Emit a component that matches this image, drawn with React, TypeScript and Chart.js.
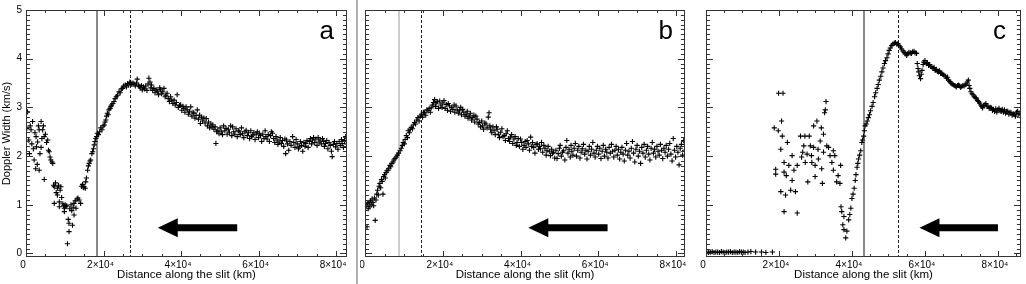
import React, { useEffect, useRef } from "react";
import { Chart, registerables } from "chart.js";

Chart.register(...registerables);

// ---- axes (x in units of 10^3 km) ----
const xTickValues = [0, 20, 40, 60, 80];
const xTickLabels = ["0", "2×10⁴", "4×10⁴", "6×10⁴", "8×10⁴"];
const xMinorStep = 5;
const yTickValues = [0, 1, 2, 3, 4, 5];
const yTickLabels = ["0", "1", "2", "3", "4", "5"];
const yMinorStep = 0.1;
const yMin = -0.072;
const yMax = 5;
const xMaxes = [82.8, 82.3, 86.3];

const xTitle = "Distance along the slit (km)";
const yTitle = "Doppler Width (km/s)";
const panelLetters = ["a", "b", "c"];

// ---- marker lines and arrows (x in 10^3 km, y in km/s) ----
const solidMarkers = [18.4, 8.8, 43.2];
const dashedMarkers = [26.8, 14.5, 52.7];
const arrowTips = [34.0, 42.0, 58.5];
const arrowTails = [54.5, 62.4, 80.0];
const arrowLevel = 0.53;

// ---- series: [distance (10^3 km), Doppler width (km/s)] ----
const panelA: [number, number][] = [
  [0.0,2.05],[0.2,2.57],[0.4,2.91],[0.7,2.33],[0.9,2.05],[1.1,2.62],[1.3,2.54],[1.5,2.25],[1.7,2.71],[1.9,2.15],
  [2.1,1.92],[2.3,2.48],[2.5,1.74],[2.6,2.40],[2.7,2.19],[2.9,1.83],[3.0,2.29],[3.2,2.62],[3.4,2.54],[3.4,1.71],
  [3.6,2.05],[3.9,2.71],[3.9,2.18],[4.1,2.36],[4.3,2.54],[4.5,2.62],[4.7,2.40],[4.7,1.52],[5.0,2.45],[5.3,2.28],
  [5.6,2.33],[5.8,2.12],[6.0,2.09],[6.2,1.98],[6.4,1.92],[6.7,1.88],[6.9,1.85],[7.1,1.40],[7.3,1.37],[7.3,1.03],
  [7.6,1.45],[7.8,1.25],[8.1,1.34],[8.1,1.20],[8.4,1.40],[8.6,1.06],[8.6,0.96],[8.8,1.30],[9.0,1.37],[9.2,1.15],
  [9.5,1.02],[9.7,0.98],[9.9,0.93],[9.9,0.86],[10.1,1.00],[10.3,0.96],[10.5,0.98],[10.7,0.20],[10.9,0.70],[11.1,0.62],
  [11.1,0.45],[11.3,0.92],[11.6,1.00],[11.8,0.88],[12.0,0.58],[12.2,0.95],[12.4,1.03],[12.4,0.79],[12.7,1.08],[12.9,0.93],
  [13.2,1.12],[13.4,1.14],[13.7,1.10],[14.1,1.03],[14.3,1.38],[14.6,1.42],[14.8,1.35],[15.0,1.37],[15.3,1.34],[15.4,1.47],
  [15.6,1.55],[15.9,1.71],[16.1,1.80],[16.3,1.85],[16.5,1.90],[16.7,1.92],[17.0,2.05],[17.2,2.09],[17.4,2.15],[17.6,2.23],
  [17.8,2.30],[18.0,2.36],[18.2,2.40],[18.4,2.47],[18.7,2.44],[19.0,2.50],[19.3,2.58],[19.6,2.54],[19.9,2.62],[20.2,2.64],
  [20.4,2.70],[20.6,2.74],[20.8,2.82],[21.0,2.88],[21.2,2.85],[21.4,2.95],[21.7,2.98],[21.9,3.02],[22.1,3.05],[22.4,3.08],
  [22.7,3.12],[23.0,3.18],[23.3,3.22],[23.6,3.25],[24.0,3.32],[24.3,3.30],[24.6,3.38],[24.9,3.39],[25.2,3.44],[25.6,3.46],
  [25.9,3.42],[26.2,3.49],[26.5,3.46],[26.8,3.52],[27.0,3.51],[27.3,3.47],[27.6,3.50],[27.9,3.48],[28.2,3.44],[28.5,3.50],
  [28.7,3.58],[29.0,3.46],[29.2,3.43],[29.5,3.40],[29.8,3.45],[30.0,3.36],[30.3,3.42],[30.6,3.38],[30.9,3.44],[31.2,3.35],
  [31.5,3.48],[31.7,3.60],[32.0,3.52],[32.2,3.40],[32.4,3.46],[32.7,3.35],[33.0,3.39],[33.3,3.30],[33.6,3.36],[33.9,3.32],
  [34.2,3.26],[34.5,3.40],[34.7,3.36],[35.0,3.28],[35.3,3.32],[35.6,3.39],[35.9,3.22],[36.1,3.25],[36.4,3.29],[36.7,3.18],
  [37.0,3.12],[37.3,3.22],[37.6,3.15],[37.9,3.08],[38.2,3.15],[38.5,3.05],[38.8,3.10],[39.0,3.26],[39.3,3.00],[39.6,3.04],
  [39.9,3.05],[40.2,2.94],[40.5,3.02],[40.7,2.98],[41.0,2.90],[41.3,3.01],[41.6,2.95],[41.9,2.86],[42.2,2.92],[42.5,3.01],
  [42.8,2.82],[43.1,2.90],[43.3,2.88],[43.6,2.78],[43.9,2.84],[44.2,2.95],[44.5,2.76],[44.8,2.84],[45.0,2.67],[45.3,2.80],
  [45.6,2.72],[45.9,2.78],[46.2,2.68],[46.5,2.77],[46.8,2.62],[47.1,2.70],[47.4,2.58],[47.7,2.66],[48.0,2.60],[48.2,2.64],
  [48.5,2.55],[48.8,2.60],[49.0,2.26],[49.2,2.50],[49.5,2.53],[49.8,2.46],[50.1,2.58],[50.4,2.50],[50.7,2.44],[51.0,2.62],
  [51.3,2.52],[51.6,2.57],[51.9,2.45],[52.2,2.55],[52.5,2.48],[52.8,2.62],[53.1,2.42],[53.3,2.60],[53.6,2.50],[53.9,2.45],
  [54.2,2.56],[54.5,2.40],[54.8,2.52],[55.0,2.50],[55.3,2.44],[55.6,2.58],[55.9,2.46],[56.2,2.38],[56.5,2.50],[56.8,2.53],
  [57.1,2.42],[57.4,2.48],[57.7,2.36],[58.0,2.52],[58.2,2.40],[58.5,2.43],[58.8,2.48],[59.1,2.34],[59.4,2.45],[59.7,2.50],
  [60.0,2.38],[60.2,2.47],[60.5,2.42],[60.8,2.30],[61.1,2.45],[61.4,2.36],[61.7,2.52],[61.9,2.40],[62.2,2.35],[62.5,2.44],
  [62.8,2.30],[63.1,2.42],[63.3,2.50],[63.6,2.47],[63.9,2.36],[64.2,2.28],[64.5,2.40],[64.8,2.33],[65.0,2.24],[65.3,2.29],
  [65.6,2.38],[65.9,2.26],[66.2,2.32],[66.5,2.20],[66.8,2.35],[67.0,2.05],[67.2,2.33],[67.5,2.25],[67.8,2.12],[68.1,2.30],
  [68.4,2.22],[68.8,2.40],[69.1,2.28],[69.4,2.18],[69.7,2.34],[70.0,2.25],[70.3,2.15],[70.5,2.19],[70.8,2.30],[71.1,2.22],
  [71.4,2.10],[71.7,2.28],[72.0,2.20],[72.2,2.26],[72.5,2.32],[72.8,2.18],[73.1,2.30],[73.4,2.36],[73.7,2.25],[73.9,2.33],
  [74.2,2.38],[74.5,2.28],[74.8,2.35],[75.1,2.22],[75.4,2.38],[75.6,2.29],[75.9,2.33],[76.2,2.25],[76.5,2.36],[76.8,2.30],
  [77.0,2.20],[77.3,2.26],[77.6,2.32],[77.9,2.15],[78.2,2.28],[78.5,2.22],[78.8,2.10],[79.0,1.99],[79.3,2.24],[79.6,2.30],
  [79.9,2.19],[80.2,2.26],[80.5,2.14],[80.8,2.30],[81.1,2.22],[81.4,2.34],[81.6,2.26],[81.9,2.18],[82.2,2.32],[82.5,2.40],
  [82.7,2.25],
];

const panelB: [number, number][] = [
  [0.3,0.98],[0.5,0.55],[0.6,1.02],[0.8,0.92],[1.0,1.05],[1.2,0.96],[1.4,1.08],[1.6,1.00],[1.8,1.12],[2.0,1.05],
  [2.2,0.98],[2.4,1.14],[2.6,0.68],[2.8,1.10],[3.0,1.22],[3.2,1.30],[3.4,1.20],[3.6,1.38],[3.8,1.44],[4.0,1.35],
  [4.2,1.52],[4.4,1.48],[4.6,1.22],[4.8,1.58],[5.0,1.62],[5.2,1.55],[5.4,1.66],[5.6,1.70],[5.9,1.71],[6.1,1.75],
  [6.4,1.81],[6.6,1.78],[6.9,1.85],[7.2,1.88],[7.4,1.92],[7.7,1.95],[8.0,1.98],[8.3,2.02],[8.6,2.06],[9.0,2.11],
  [9.3,2.16],[9.6,2.22],[9.8,2.28],[10.1,2.25],[10.3,2.34],[10.6,2.42],[10.9,2.38],[11.1,2.52],[11.4,2.48],[11.6,2.55],
  [11.9,2.59],[12.2,2.56],[12.4,2.64],[12.7,2.69],[13.0,2.66],[13.3,2.74],[13.6,2.79],[13.9,2.72],[14.2,2.82],[14.5,2.86],
  [14.8,2.80],[15.0,2.90],[15.3,2.89],[15.6,2.84],[15.9,2.95],[16.2,2.93],[16.5,2.98],[16.8,2.90],[17.0,2.99],[17.3,3.05],
  [17.6,3.10],[17.9,3.16],[18.1,3.02],[18.3,3.09],[18.6,3.12],[18.9,2.98],[19.2,3.13],[19.5,3.05],[19.8,3.00],[20.0,3.09],
  [20.3,3.14],[20.6,2.98],[20.9,3.06],[21.2,2.94],[21.4,3.08],[21.7,3.03],[22.0,2.92],[22.3,3.00],[22.6,2.96],[22.9,3.05],
  [23.1,2.90],[23.4,3.03],[23.7,2.95],[24.0,2.88],[24.3,2.93],[24.6,3.00],[24.8,2.85],[25.1,2.96],[25.4,2.90],[25.7,2.82],
  [26.0,2.86],[26.3,2.92],[26.5,2.78],[26.8,2.82],[27.1,2.88],[27.4,2.74],[27.7,2.79],[28.0,2.84],[28.2,2.70],[28.5,2.82],
  [28.8,2.76],[29.1,2.66],[29.4,2.69],[29.7,2.60],[30.0,2.72],[30.2,2.62],[30.5,2.55],[30.8,2.68],[31.1,2.66],[31.4,2.58],
  [31.7,2.80],[31.9,2.89],[32.1,2.62],[32.3,2.55],[32.6,2.48],[32.9,2.60],[33.2,2.52],[33.5,2.44],[33.8,2.60],[34.0,2.55],
  [34.3,2.45],[34.6,2.38],[34.9,2.49],[35.2,2.56],[35.5,2.40],[35.8,2.42],[36.1,2.32],[36.3,2.46],[36.6,2.52],[36.9,2.36],
  [37.2,2.30],[37.4,2.39],[37.7,2.44],[38.0,2.26],[38.3,2.35],[38.6,2.40],[38.9,2.22],[39.1,2.28],[39.4,2.36],[39.7,2.20],
  [40.0,2.35],[40.3,2.28],[40.6,2.14],[40.9,2.22],[41.2,2.30],[41.4,2.18],[41.7,2.32],[42.0,2.25],[42.3,2.12],[42.6,2.39],
  [42.9,2.20],[43.1,2.28],[43.4,2.18],[43.7,2.06],[44.0,2.24],[44.3,2.25],[44.6,2.14],[44.9,2.20],[45.1,2.15],[45.4,2.28],
  [45.7,2.08],[46.0,2.22],[46.3,2.16],[46.6,2.02],[46.8,2.11],[47.1,2.20],[47.4,2.10],[47.7,2.01],[48.0,2.14],[48.2,2.06],
  [48.5,2.08],[48.8,1.96],[49.1,2.12],[49.4,1.95],[49.7,2.05],[50.0,2.16],[50.2,2.22],[50.5,2.00],[50.8,2.08],[51.1,2.11],
  [51.4,1.92],[51.7,2.18],[51.9,2.32],[52.2,2.06],[52.5,2.14],[52.8,1.98],[53.0,2.22],[53.2,2.10],[53.5,2.02],[53.8,2.16],
  [54.1,2.26],[54.4,2.00],[54.7,2.12],[55.0,2.20],[55.3,1.96],[55.6,2.08],[55.9,2.15],[56.2,2.24],[56.5,2.04],[56.8,2.12],
  [57.1,1.94],[57.4,2.10],[57.7,2.20],[58.0,2.02],[58.3,2.14],[58.6,2.28],[58.9,2.06],[59.2,1.98],[59.5,2.12],[59.8,2.20],
  [60.1,2.04],[60.4,2.16],[60.7,1.95],[61.0,2.10],[61.3,2.22],[61.6,2.00],[61.9,2.14],[62.2,2.08],[62.5,1.96],[62.8,2.18],
  [63.1,2.06],[63.4,2.24],[63.7,2.10],[64.0,1.98],[64.3,2.12],[64.6,2.20],[64.9,2.02],[65.2,2.14],[65.5,1.94],[65.8,2.08],
  [66.1,2.18],[66.4,2.04],[66.7,1.90],[67.0,2.12],[67.3,2.26],[67.6,2.02],[67.9,2.10],[68.2,1.96],[68.5,2.16],[68.8,2.30],
  [69.1,2.06],[69.4,1.88],[69.7,2.14],[70.0,2.22],[70.3,2.00],[70.6,2.10],[70.9,1.85],[71.2,2.18],[71.5,2.06],[71.8,2.24],
  [72.1,1.98],[72.4,2.12],[72.7,2.20],[73.0,2.04],[73.3,1.92],[73.6,2.16],[73.9,2.28],[74.2,2.06],[74.5,2.14],[74.8,1.98],
  [75.1,2.20],[75.4,2.10],[75.7,2.02],[76.0,2.24],[76.3,2.12],[76.6,1.95],[76.9,2.16],[77.2,2.08],[77.5,2.22],[77.8,2.00],
  [78.1,2.14],[78.4,2.26],[78.7,2.04],[79.0,1.90],[79.3,2.36],[79.6,2.12],[79.9,1.98],[80.2,2.20],[80.5,2.08],[80.8,1.82],
  [81.1,2.16],[81.4,2.24],[81.7,2.02],[82.0,2.32],[82.2,2.12],
];

const panelC: [number, number][] = [
  [0.2,0.03],[0.7,0.02],[1.2,0.03],[1.7,0.04],[2.2,0.02],[2.7,0.03],[3.2,0.03],[3.7,0.02],[4.2,0.04],[4.7,0.03],
  [5.2,0.02],[5.7,0.03],[6.2,0.03],[6.7,0.04],[7.2,0.02],[7.7,0.03],[8.2,0.03],[8.7,0.02],[9.2,0.04],[9.7,0.03],
  [10.2,0.03],[10.7,0.02],[11.5,0.03],[12.3,0.04],[13.6,0.03],[15.2,0.03],[16.4,0.02],[18.2,0.03],
  [18.7,2.58],[19.1,1.73],[19.1,1.63],[19.8,2.52],[19.9,3.29],[20.5,2.14],[20.5,1.27],[20.7,2.72],[20.9,2.41],[21.1,3.29],
  [21.4,1.87],[21.4,1.67],[21.4,0.86],[21.8,1.20],[22.0,1.60],[22.3,2.28],[22.7,1.81],[23.2,1.30],[23.6,1.50],[23.6,2.01],
  [24.1,1.71],[24.5,1.27],[25.0,0.83],[25.0,1.81],[25.9,2.41],[26.2,1.98],[26.5,2.08],[26.8,2.21],[27.1,2.41],[27.2,1.87],
  [27.7,2.04],[27.9,1.47],[28.3,2.41],[28.6,2.21],[28.9,2.01],[29.0,1.87],[29.5,2.62],[29.5,2.18],[29.9,1.81],[29.9,1.58],
  [30.4,2.72],[30.7,2.14],[30.8,1.94],[31.3,2.31],[31.6,2.58],[31.7,1.74],[31.9,1.44],[32.2,2.08],[32.2,2.45],[32.5,2.89],
  [32.7,2.95],[32.9,3.12],[33.1,2.21],[33.6,2.18],[34.0,2.01],[34.5,1.87],[34.9,2.11],[34.9,1.71],[35.3,2.01],[35.8,1.47],
  [36.2,1.60],[36.7,1.44],[36.9,1.81],
  [37.0,0.96],[37.2,0.86],[37.5,0.59],[37.8,0.49],[37.8,0.76],[38.3,0.32],[38.6,0.46],[39.1,0.69],[39.4,0.80],[39.7,0.93],
  [40.0,1.13],[40.3,1.22],[40.6,1.34],[40.9,1.50],[41.1,1.62],[41.4,1.77],[41.6,1.85],[41.8,1.94],[42.1,2.02],[42.4,2.11],
  [42.7,2.28],[42.9,2.33],[43.2,2.41],[43.4,2.52],[43.6,2.62],[43.9,2.66],[44.2,2.72],[44.5,2.79],[44.8,2.85],[45.1,2.93],
  [45.5,3.02],[45.8,3.10],[46.2,3.22],[46.5,3.30],[46.9,3.39],[47.2,3.47],[47.5,3.56],[47.9,3.64],[48.2,3.73],[48.5,3.81],
  [48.9,3.90],[49.2,3.96],[49.6,4.02],[49.9,4.10],[50.2,4.17],[50.5,4.22],[50.9,4.27],[51.2,4.30],[51.6,4.32],[51.9,4.33],
  [52.3,4.30],[52.6,4.31],[52.9,4.27],[53.3,4.24],[53.6,4.20],[54.0,4.16],[54.3,4.13],[54.6,4.10],[55.0,4.07],[55.3,4.10],
  [55.6,4.13],[56.0,4.12],[56.3,4.11],[56.6,4.14],[57.0,4.15],[57.3,4.12],[57.7,4.11],[57.9,3.90],[58.1,3.80],[58.3,3.73],
  [58.5,3.65],[58.8,3.59],[59.0,3.68],[59.2,3.76],[59.5,3.88],[59.7,3.93],[60.0,3.96],[60.4,3.90],[60.7,3.92],[61.0,3.86],
  [61.3,3.88],[61.6,3.84],[61.9,3.83],[62.2,3.80],[62.5,3.82],[62.8,3.76],[63.1,3.78],[63.4,3.74],[63.7,3.73],[64.0,3.75],
  [64.3,3.70],[64.6,3.70],[64.9,3.68],[65.2,3.66],[65.6,3.64],[65.9,3.60],[66.2,3.62],[66.5,3.56],[66.8,3.53],[67.1,3.50],
  [67.4,3.49],[67.7,3.47],[68.0,3.45],[68.3,3.44],[68.6,3.42],[68.9,3.45],[69.2,3.46],[69.5,3.44],[69.8,3.41],[70.1,3.43],
  [70.4,3.45],[70.7,3.44],[71.0,3.46],[71.3,3.48],[71.6,3.52],[71.9,3.56],[72.1,3.45],[72.3,3.39],[72.6,3.32],[72.9,3.28],
  [73.2,3.26],[73.5,3.22],[73.8,3.20],[74.1,3.19],[74.4,3.14],[74.7,3.12],[75.0,3.09],[75.3,3.05],[75.6,3.02],[75.8,2.99],
  [76.1,3.04],[76.4,3.05],[76.7,3.08],[77.0,3.03],[77.3,3.02],[77.6,2.98],[77.9,3.00],[78.2,2.99],[78.5,2.94],[78.8,2.96],
  [79.1,2.92],[79.4,2.97],[79.7,2.90],[80.0,2.95],[80.3,2.98],[80.6,2.93],[80.9,2.92],[81.2,2.96],[81.5,2.90],[81.8,2.95],
  [82.1,2.88],[82.4,2.92],[82.7,2.92],[83.0,2.86],[83.3,2.90],[83.6,2.89],[83.9,2.84],[84.2,2.87],[84.5,2.85],[84.8,2.82],
  [85.1,2.90],[85.4,2.92],[85.7,2.86],[86.0,2.88],
];

const panelSeries = [panelA, panelB, panelC];

// ---- styling ----
const FONT = "'Liberation Sans', Arial, Helvetica, sans-serif";
const INK = "#000";
const solidColors = ["#8a8a8a", "#bdbdbd", "#8a8a8a"];
const solidWidths = [2, 1.5, 2];

type PanelGeom = { left: number; width: number; yAxisWidth: number; padRight: number; showY: boolean };
const geoms: PanelGeom[] = [
  { left: 0, width: 352, yAxisWidth: 26, padRight: 4, showY: true },
  { left: 360, width: 330, yAxisWidth: 5, padRight: 3, showY: false },
  { left: 700, width: 326, yAxisWidth: 6, padRight: 1, showY: false },
];
const letterInset = [13, 12, 15];

function decorPlugin(i: number) {
  return {
    id: "decor" + i,
    beforeDatasetsDraw(chart: any) {
      const { ctx, chartArea: ca, scales } = chart;
      const x = scales.x;
      ctx.save();
      const xs = Math.round(x.getPixelForValue(solidMarkers[i]));
      ctx.strokeStyle = solidColors[i];
      ctx.lineWidth = solidWidths[i];
      ctx.beginPath();
      ctx.moveTo(xs, ca.top);
      ctx.lineTo(xs, ca.bottom);
      ctx.stroke();
      const xd = Math.round(x.getPixelForValue(dashedMarkers[i])) + 0.5;
      ctx.strokeStyle = "#222";
      ctx.lineWidth = 1;
      ctx.setLineDash([3, 2]);
      ctx.beginPath();
      ctx.moveTo(xd, ca.top);
      ctx.lineTo(xd, ca.bottom);
      ctx.stroke();
      ctx.restore();
    },
    afterDraw(chart: any) {
      const { ctx, chartArea: ca, scales } = chart;
      const x = scales.x;
      const y = scales.y;
      ctx.save();
      // frame
      ctx.strokeStyle = "#333";
      ctx.lineWidth = 1;
      ctx.strokeRect(Math.round(ca.left) + 0.5, Math.round(ca.top) + 0.5, Math.round(ca.right - ca.left) - 1, Math.round(ca.bottom - ca.top) - 1);
      // x ticks (inward, bottom and top)
      ctx.beginPath();
      const xMax = xMaxes[i];
      for (let v = 0; v <= xMax; v += xMinorStep) {
        const major = xTickValues.includes(v);
        const len = major ? 6 : 3;
        const px = Math.round(x.getPixelForValue(v)) + 0.5;
        ctx.moveTo(px, ca.bottom);
        ctx.lineTo(px, ca.bottom - len);
        ctx.moveTo(px, ca.top);
        ctx.lineTo(px, ca.top + len);
      }
      // y ticks (inward, left and right)
      for (let k = 0; k <= 50; k++) {
        const v = k * yMinorStep;
        const major = k % 10 === 0;
        const len = major ? 7 : 4;
        const py = Math.round(y.getPixelForValue(v)) + 0.5;
        ctx.moveTo(ca.left, py);
        ctx.lineTo(ca.left + len, py);
        ctx.moveTo(ca.right, py);
        ctx.lineTo(ca.right - len, py);
      }
      ctx.stroke();
      // arrow
      const tip = x.getPixelForValue(arrowTips[i]);
      const tail = x.getPixelForValue(arrowTails[i]);
      const yc = y.getPixelForValue(arrowLevel);
      const headLen = 20, headHalf = 9.5, shaftHalf = 3.5;
      ctx.fillStyle = "#000";
      ctx.beginPath();
      ctx.moveTo(tip, yc);
      ctx.lineTo(tip + headLen, yc - headHalf);
      ctx.lineTo(tip + headLen, yc - shaftHalf);
      ctx.lineTo(tail, yc - shaftHalf);
      ctx.lineTo(tail, yc + shaftHalf);
      ctx.lineTo(tip + headLen, yc + shaftHalf);
      ctx.lineTo(tip + headLen, yc + headHalf);
      ctx.closePath();
      ctx.fill();
      // panel letter
      ctx.font = `26px ${FONT}`;
      ctx.textAlign = "right";
      ctx.textBaseline = "alphabetic";
      ctx.fillStyle = "#000";
      ctx.fillText(panelLetters[i], ca.right - letterInset[i], ca.top + 29);
      ctx.restore();
    },
  };
}

function makeChart(canvas: HTMLCanvasElement, i: number) {
  const g = geoms[i];
  return new Chart(canvas, {
    type: "scatter",
    data: {
      datasets: [
        {
          data: panelSeries[i].map(([px, py]) => ({ x: px, y: py })),
          pointStyle: "cross",
          pointRadius: 2.6,
          borderColor: INK,
          backgroundColor: INK,
          borderWidth: 1.1,
        },
      ],
    },
    options: {
      animation: false,
      responsive: false,
      events: [],
      layout: { padding: { top: 10, right: g.padRight, left: 0, bottom: 0 } },
      plugins: { legend: { display: false }, tooltip: { enabled: false } },
      scales: {
        x: {
          type: "linear",
          min: 0,
          max: xMaxes[i],
          grid: { display: false, drawTicks: false },
          border: { display: false },
          afterBuildTicks: (s: any) => {
            s.ticks = xTickValues.map((v) => ({ value: v }));
          },
          afterFit: (s: any) => {
            s.height = 27;
            s.paddingLeft = 0;
            s.paddingRight = 0;
          },
          ticks: {
            autoSkip: false,
            maxRotation: 0,
            padding: 2,
            labelOffset: -3,
            color: INK,
            font: { family: FONT, size: 10 },
            callback: (v: any) => xTickLabels[xTickValues.indexOf(Number(v))] ?? "",
          },
          title: {
            display: true,
            text: xTitle,
            color: INK,
            font: { family: FONT, size: 11.5 },
            padding: { top: 0, bottom: 2 },
          },
        },
        y: {
          type: "linear",
          min: yMin,
          max: yMax,
          grid: { display: false, drawTicks: false },
          border: { display: false },
          afterBuildTicks: (s: any) => {
            s.ticks = yTickValues.map((v) => ({ value: v }));
          },
          afterFit: (s: any) => {
            s.width = g.yAxisWidth;
            s.paddingTop = 0;
            s.paddingBottom = 0;
          },
          ticks: {
            display: g.showY,
            padding: 4,
            color: INK,
            font: { family: FONT, size: 10 },
            callback: (v: any) => yTickLabels[yTickValues.indexOf(Number(v))] ?? "",
          },
          title: {
            display: g.showY,
            text: yTitle,
            color: INK,
            font: { family: FONT, size: 11 },
            padding: { top: 0, bottom: 0 },
          },
        },
      },
    },
    plugins: [decorPlugin(i)],
  } as any);
}

export default function App() {
  const refA = useRef<HTMLCanvasElement>(null);
  const refB = useRef<HTMLCanvasElement>(null);
  const refC = useRef<HTMLCanvasElement>(null);

  useEffect(() => {
    const canvases = [refA.current, refB.current, refC.current];
    const charts = canvases.map((c, i) => (c ? makeChart(c, i) : null));
    return () => {
      charts.forEach((ch) => ch && ch.destroy());
    };
  }, []);

  const refs = [refA, refB, refC];
  return (
    <div style={{ position: "absolute", left: 0, top: 0, width: 1026, height: 284, background: "#fff", overflow: "hidden" }}>
      {geoms.map((g, i) => (
        <canvas
          key={i}
          ref={refs[i]}
          width={g.width}
          height={284}
          style={{ position: "absolute", left: g.left, top: 0, width: g.width, height: 284 }}
        />
      ))}
      <div style={{ position: "absolute", left: 356, top: 0, width: 1.5, height: 284, background: "#b0b0b0" }} />
    </div>
  );
}
